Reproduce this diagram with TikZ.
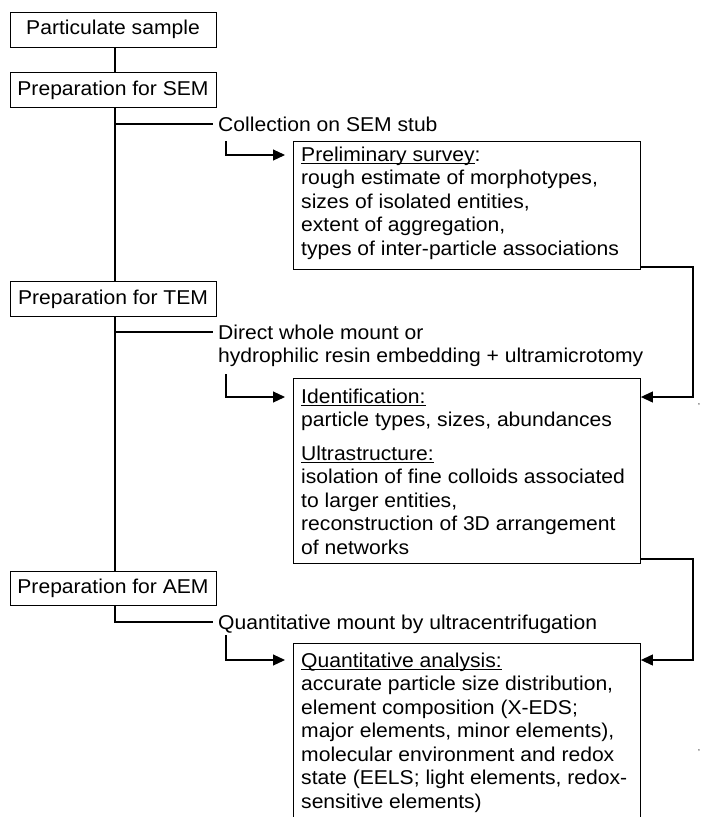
\documentclass[tikz,border=0pt]{standalone}
\usepackage{fontspec}
\setmainfont[FakeStretch=1.055]{Liberation Sans}
\usetikzlibrary{arrows.meta}
\newcommand\ulx[1]{\setbox0\hbox{#1}\rlap{\rule[-3pt]{\wd0}{0.9pt}}\box0}
\begin{document}
\begin{tikzpicture}[x=1pt,y=1pt,
  every node/.style={font=\fontsize{20}{23.5}\selectfont, inner sep=0pt},
  prep/.style={draw, line width=0.9pt, minimum width=206pt, minimum height=35pt},
  resbox/.style={draw, line width=0.9pt, anchor=north west, minimum width=347pt},
  txt/.style={anchor=base west},
  conn/.style={line width=1.1pt},
  arr/.style={conn, -{Triangle[length=12pt,width=11pt]}},
]
\useasboundingbox (0,0) rectangle (702,-817);
\clip (0,0) rectangle (702,-817);
\coordinate (spine) at (115,0);
\coordinate (rx) at (693,0);
% left boxes
\node[prep] (ps) at (113,-29.5) {Particulate sample};
\node[prep] (sem) at (113,-90) {Preparation for SEM};
\node[prep] (tem) at (113,-299) {Preparation for TEM};
\node[prep, minimum height=34pt] (aem) at (113,-588) {Preparation for AEM};
% branch labels
\node[txt] (col) at (218,-131) {Collection on SEM stub};
\node[txt] (tl) at (218,-339) {\begin{tabular}[t]{@{}l@{}}Direct whole mount or\\ hydrophilic resin embedding + ultramicrotomy\end{tabular}};
\node[txt] (aq) at (218,-629) {Quantitative mount by ultracentrifugation};
% result boxes
\node[resbox, minimum height=128pt] (survey) at (293,-141) {};
\node[txt] (surveytxt) at (301,-161) {\begin{tabular}[t]{@{}l@{}}\ulx{Preliminary survey}:\\ rough estimate of morphotypes,\\ sizes of isolated entities,\\ extent of aggregation,\\ types of inter-particle associations\end{tabular}};
\node[resbox, minimum height=185pt] (ident) at (293,-378) {};
\node[txt] (identtxt) at (301,-403) {\begin{tabular}[t]{@{}l@{}}\ulx{Identification:}\\ particle types, sizes, abundances\\[10pt] \ulx{Ultrastructure:}\\ isolation of fine colloids associated\\ to larger entities,\\ reconstruction of 3D arrangement\\ of networks\end{tabular}};
\node[resbox, minimum height=210pt] (quant) at (293,-643) {};
\node[txt] (quanttxt) at (301,-667) {\begin{tabular}[t]{@{}l@{}}\ulx{Quantitative analysis:}\\ accurate particle size distribution,\\ element composition (X-EDS;\\ major elements, minor elements),\\ molecular environment and redox\\ state (EELS; light elements, redox-\\ sensitive elements)\end{tabular}};
% small marks
\node[font=\fontsize{8}{8}\selectfont] (c1) at (699,-405) {,};
\node[font=\fontsize{8}{8}\selectfont] (c2) at (699,-751) {,};
% spine
\draw[conn] (ps.south -| spine) -- (sem.north -| spine);
\draw[conn] (sem.south -| spine) -- (tem.north -| spine);
\draw[conn] (tem.south -| spine) -- (aem.north -| spine);
\coordinate (b1) at (213,-124);
\draw[conn] (spine |- b1) -- (b1);
\coordinate (b2) at (213,-332);
\draw[conn] (spine |- b2) -- (b2);
\coordinate (b3) at (213,-622);
\draw[conn, line width=1.5pt] (aem.south -| spine) |- (b3);
% elbow arrows
\coordinate (e1) at (226,-141); \coordinate (a1) at (0,-155);
\draw[arr, shorten >=8pt] (e1) |- (survey.west |- a1);
\coordinate (e2) at (226,-374); \coordinate (a2) at (0,-397);
\draw[arr, shorten >=8pt] (e2) |- (ident.west |- a2);
\coordinate (e3) at (226,-635); \coordinate (a3) at (0,-660);
\draw[arr, shorten >=8pt] (e3) |- (quant.west |- a3);
% right connectors
\coordinate (r1) at (0,-267);
\draw[arr] (survey.east |- r1) -| (rx |- a2) -- (ident.east |- a2);
\coordinate (r2) at (0,-559);
\draw[arr] (ident.east |- r2) -| (rx |- a3) -- (quant.east |- a3);
\end{tikzpicture}
\end{document}
